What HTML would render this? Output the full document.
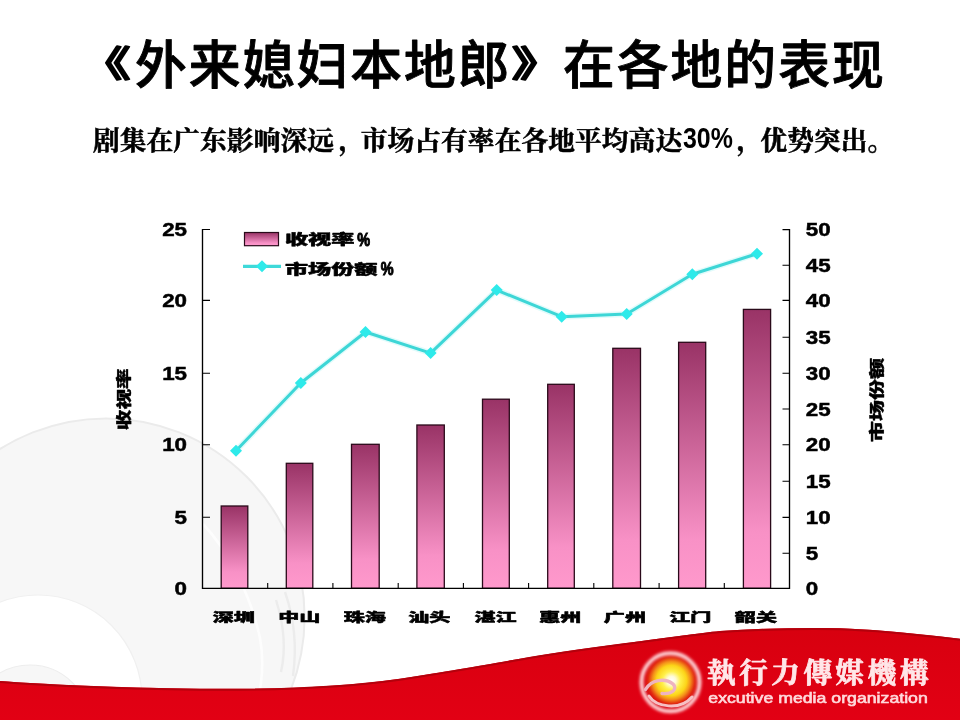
<!DOCTYPE html>
<html lang="zh-CN">
<head>
<meta charset="utf-8">
<title>《外来媳妇本地郎》在各地的表现</title>
<style>
html,body{margin:0;padding:0;background:#fff;}
body{width:960px;height:720px;overflow:hidden;position:relative;font-family:"Liberation Sans","Noto Sans CJK SC",sans-serif;}
svg{position:absolute;left:0;top:0;display:block;}
.title{font-family:"Liberation Sans","Noto Sans CJK SC",sans-serif;font-weight:500;font-size:51.8px;fill:#000;stroke:#000;stroke-width:0.9px;stroke-linejoin:round;}
.sub{font-family:"Liberation Serif","Noto Serif CJK SC",serif;font-weight:700;font-size:26.7px;fill:#000;stroke:#000;stroke-width:0.55px;}
.lat{font-family:"Liberation Sans","Noto Sans CJK SC",sans-serif;font-weight:700;fill:#000;}
.num{font-family:"Liberation Sans","Noto Sans CJK SC",sans-serif;font-weight:700;font-size:19.1px;fill:#000;stroke:#000;stroke-width:0.5px;}
.cjk{font-family:"Liberation Sans","Noto Sans CJK SC",sans-serif;font-weight:900;fill:#000;stroke:#000;stroke-width:0.5px;stroke-linejoin:round;}
.logo{font-family:"Liberation Serif","Noto Serif CJK TC",serif;font-weight:700;font-size:28.6px;fill:#ffe6e8;stroke:#ffe6e8;stroke-width:0.8px;stroke-linejoin:round;}
.eng{font-family:"Liberation Sans","Noto Sans CJK SC",sans-serif;font-weight:400;font-size:14.6px;fill:#ffd9dc;stroke:#ffd9dc;stroke-width:0.6px;}
</style>
</head>
<body>
<svg width="960" height="720" viewBox="0 0 960 720">
<defs>
<linearGradient id="bar" x1="0" y1="0" x2="0" y2="1">
<stop offset="0" stop-color="#993366"/>
<stop offset="0.8" stop-color="#f891c6"/>
<stop offset="1" stop-color="#ff99cc"/>
</linearGradient>
<linearGradient id="band" gradientUnits="userSpaceOnUse" x1="0" y1="630" x2="0" y2="720">
<stop offset="0" stop-color="#d8000f"/>
<stop offset="1" stop-color="#e20014"/>
</linearGradient>
<radialGradient id="sun" gradientUnits="userSpaceOnUse" cx="671.5" cy="680.5" r="27">
<stop offset="0" stop-color="#ffffff"/>
<stop offset="0.16" stop-color="#fffbd8"/>
<stop offset="0.34" stop-color="#fff04a"/>
<stop offset="0.56" stop-color="#fcd418"/>
<stop offset="0.7" stop-color="#f4901a"/>
<stop offset="0.86" stop-color="#e22a10"/>
<stop offset="1" stop-color="#d8000f"/>
</radialGradient>
<filter id="blur1" x="-20%" y="-20%" width="140%" height="140%"><feGaussianBlur stdDeviation="1.4"/></filter>
<filter id="blur2" x="-20%" y="-20%" width="140%" height="140%"><feGaussianBlur stdDeviation="0.6"/></filter>
</defs>

<g id="wm">
<circle cx="106" cy="617" r="198.6" fill="#f7f7f7" stroke="#ebebeb" stroke-width="2"/>
<path d="M203 524 C 226 548, 250 592, 260 638 C 264 660, 262 684, 257 704" fill="none" stroke="#fdfdfd" stroke-width="2.6"/>
<path d="M285 592 C 292 612, 298 640, 293 676 M276 600 C 284 625, 286 650, 281 672" fill="none" stroke="#ececec" stroke-width="2.4"/>
<circle cx="38" cy="699" r="104" fill="#ffffff" stroke="#f0f0f0" stroke-width="1.2"/>
<circle cx="30" cy="725" r="60" fill="#f7f7f7" stroke="#ededed" stroke-width="1.2"/>
</g>

<g id="band">
<path d="M0 681 C 40 684, 110 687.5, 200 688.7 C 280 689.5, 340 687, 400 678.7 C 450 671, 480 666, 520 658.7 C 560 651.5, 600 646.5, 640 641.2 C 680 636, 700 633, 720 631 C 760 628.3, 800 627.6, 840 628.2 C 880 629.5, 920 634, 960 638.7 L960 720 L0 720 Z" fill="url(#band)"/>
<path d="M0 681 C 40 684, 110 687.5, 200 688.7 C 280 689.5, 340 687, 400 678.7 C 450 671, 480 666, 520 658.7 C 560 651.5, 600 646.5, 640 641.2 C 680 636, 700 633, 720 631 C 760 628.3, 800 627.6, 840 628.2 C 880 629.5, 920 634, 960 638.7" fill="none" stroke="#b4000c" stroke-width="2" transform="translate(0,1)"/>
</g>

<g id="title" class="title">
<text stroke-width="2.4" transform="translate(79.1,83.8) translate(0,-21.6) scale(1,0.70) translate(0,21.6)">《</text>
<text x="135.1" y="83.8" textLength="374.4" lengthAdjust="spacing">外来媳妇本地郎</text>
<text stroke-width="2.4" transform="translate(511.4,83.8) translate(0,-21.6) scale(1,0.70) translate(0,21.6)">》</text>
<text x="562.9" y="83.8" textLength="320.9" lengthAdjust="spacing">在各地的表现</text>
</g>
<g id="sub">
<text class="sub" x="92.9" y="149.7" textLength="241.0" lengthAdjust="spacing">剧集在广东影响深远</text>
<text class="sub" x="338.4" y="149.7">，</text>
<text class="sub" x="360.7" y="149.7" textLength="321.4" lengthAdjust="spacing">市场占有率在各地平均高达</text>
<text class="lat" font-size="29" transform="translate(683,148.2) scale(0.86,1)">30%</text>
<text class="sub" x="736.4" y="149.7">，</text>
<text class="sub" x="760.4" y="149.7" textLength="133.9" lengthAdjust="spacing">优势突出。</text>
</g>
<g id="chart">
<g id="bars" fill="url(#bar)" stroke="#2a0a1a" stroke-width="1.3">
<rect x="221.2" y="506.0" width="26.6" height="82.3"/>
<rect x="286.3" y="463.3" width="26.5" height="125.0"/>
<rect x="351.5" y="444.3" width="27.7" height="144.0"/>
<rect x="416.9" y="425.0" width="27.4" height="163.3"/>
<rect x="482.5" y="399.2" width="26.8" height="189.1"/>
<rect x="547.7" y="384.3" width="26.6" height="204.0"/>
<rect x="612.8" y="348.3" width="27.7" height="240.0"/>
<rect x="678.6" y="342.3" width="27.1" height="246.0"/>
<rect x="743.4" y="309.4" width="27.2" height="278.9"/>
</g>
<g id="axes" stroke="#000" fill="none">
<path d="M202.5 229.0 V588.9 M789.5 229.0 V588.9 M201.9 588.3 H790.1" stroke-width="1.35"/>
<path d="M202.5 229.5 h7.5 M202.5 300.4 h7.5 M202.5 373.2 h7.5 M202.5 444.8 h7.5 M202.5 517.3 h7.5" stroke-width="1.1"/>
<path d="M789.5 229.6 h-7 M789.5 265.2 h-7 M789.5 300.4 h-7 M789.5 337.3 h-7 M789.5 373.2 h-7 M789.5 409.0 h-7 M789.5 444.8 h-7 M789.5 481.2 h-7 M789.5 517.4 h-7 M789.5 553.3 h-7" stroke-width="1.1"/>
<path d="M267.7 588.3 v-5.3 M332.9 588.3 v-5.3 M398.2 588.3 v-5.3 M463.4 588.3 v-5.3 M528.6 588.3 v-5.3 M593.8 588.3 v-5.3 M659.1 588.3 v-5.3 M724.3 588.3 v-5.3" stroke-width="1.1"/>
</g>
<g id="line">
<polyline points="236,450.7 300.8,383 365.5,332 430.6,353.1 496.7,290.1 561.7,316.7 626.7,314 692.3,274.3 757,253.7" fill="none" stroke="#c9f8f8" stroke-opacity="0.55" stroke-width="6" stroke-linejoin="round"/>
<polyline points="236,450.7 300.8,383 365.5,332 430.6,353.1 496.7,290.1 561.7,316.7 626.7,314 692.3,274.3 757,253.7" fill="none" stroke="#3dd6d6" stroke-width="3" stroke-linejoin="round"/>
<g fill="#2eeaea">
<path d="M236 444.7 l6 6 l-6 6 l-6 -6z"/>
<path d="M300.8 377 l6 6 l-6 6 l-6 -6z"/>
<path d="M365.5 326 l6 6 l-6 6 l-6 -6z"/>
<path d="M430.6 347.1 l6 6 l-6 6 l-6 -6z"/>
<path d="M496.7 284.1 l6 6 l-6 6 l-6 -6z"/>
<path d="M561.7 310.7 l6 6 l-6 6 l-6 -6z"/>
<path d="M626.7 308 l6 6 l-6 6 l-6 -6z"/>
<path d="M692.3 268.3 l6 6 l-6 6 l-6 -6z"/>
<path d="M757 247.7 l6 6 l-6 6 l-6 -6z"/>
</g></g>
<g id="legend">
<rect x="244.5" y="232.5" width="34" height="13.2" fill="url(#bar)" stroke="#2a0a1a" stroke-width="1.2"/>
<path d="M243 266.3 H281" stroke="#3fd9d9" stroke-width="3.2"/>
<path d="M262 260.3 l6 6 l-6 6 l-6 -6z" fill="#2eeaea"/>
<text class="cjk" font-size="13.2" transform="translate(285,244.4) scale(1.75,1)">收视率</text>
<text class="lat" font-size="18.5" transform="translate(357.3,245.6) scale(0.78,1)" stroke="#000" stroke-width="1">%</text>
<text class="cjk" font-size="13.2" transform="translate(285,273.6) scale(1.75,1)">市场份额</text>
<text class="lat" font-size="18.5" transform="translate(380.8,275) scale(0.78,1)" stroke="#000" stroke-width="1">%</text>
</g>
<g id="ylab" class="num" text-anchor="end">
<text transform="translate(187,236.1) scale(1.17,1)">25</text>
<text transform="translate(187,307.0) scale(1.17,1)">20</text>
<text transform="translate(187,379.8) scale(1.17,1)">15</text>
<text transform="translate(187,451.4) scale(1.17,1)">10</text>
<text transform="translate(187,523.9) scale(1.17,1)">5</text>
<text transform="translate(187,594.9) scale(1.17,1)">0</text>
</g>
<g id="y2lab" class="num">
<text transform="translate(805.8,236.2) scale(1.17,1)">50</text>
<text transform="translate(805.8,271.8) scale(1.17,1)">45</text>
<text transform="translate(805.8,307.0) scale(1.17,1)">40</text>
<text transform="translate(805.8,343.9) scale(1.17,1)">35</text>
<text transform="translate(805.8,379.8) scale(1.17,1)">30</text>
<text transform="translate(805.8,415.6) scale(1.17,1)">25</text>
<text transform="translate(805.8,451.4) scale(1.17,1)">20</text>
<text transform="translate(805.8,487.8) scale(1.17,1)">15</text>
<text transform="translate(805.8,524.0) scale(1.17,1)">10</text>
<text transform="translate(805.8,559.9) scale(1.17,1)">5</text>
<text transform="translate(805.8,594.9) scale(1.17,1)">0</text>
</g>
<g id="xlab" class="cjk" font-size="12.4" text-anchor="middle">
<text transform="translate(233.8,621.8) scale(1.7,1)">深圳</text>
<text transform="translate(299.2,621.8) scale(1.7,1)">中山</text>
<text transform="translate(364.7,621.8) scale(1.7,1)">珠海</text>
<text transform="translate(429.3,621.8) scale(1.7,1)">汕头</text>
<text transform="translate(495.5,621.8) scale(1.7,1)">湛江</text>
<text transform="translate(560.2,621.8) scale(1.7,1)">惠州</text>
<text transform="translate(624.9,621.8) scale(1.7,1)">广州</text>
<text transform="translate(690.2,621.8) scale(1.7,1)">江门</text>
<text transform="translate(755.9,621.8) scale(1.7,1)">韶关</text>
</g>
<text class="cjk" font-size="20.6" text-anchor="middle" transform="translate(129.3,399.3) rotate(-90) scale(1,0.7)">收视率</text>
<text class="cjk" font-size="21" text-anchor="middle" transform="translate(882,400) rotate(-90) scale(1,0.7)">市场份额</text>
</g>
<g id="logo">
<circle cx="670.5" cy="682.3" r="28.6" fill="url(#sun)"/>
<circle cx="670.5" cy="682.3" r="29" fill="none" stroke="#ffd6d8" stroke-width="4" filter="url(#blur1)"/>
<path d="M645.5 689.5 C 651 679.5, 665 677.5, 673 684 C 678 689, 672 694.5, 662 693.5" fill="none" stroke="#eeb4c0" stroke-width="3.4" stroke-linecap="round" filter="url(#blur2)"/>
<path d="M649 696 C 656 707, 680 711, 692 697" fill="none" stroke="#f6c0c4" stroke-width="3" stroke-linecap="round" filter="url(#blur2)"/>
<text class="logo" x="707" y="683" textLength="221.5" lengthAdjust="spacing">執行力傳媒機構</text>
<text class="eng" x="708.3" y="703.3" textLength="219.5" lengthAdjust="spacingAndGlyphs">excutive media organization</text>
</g>
</svg>
</body>
</html>
